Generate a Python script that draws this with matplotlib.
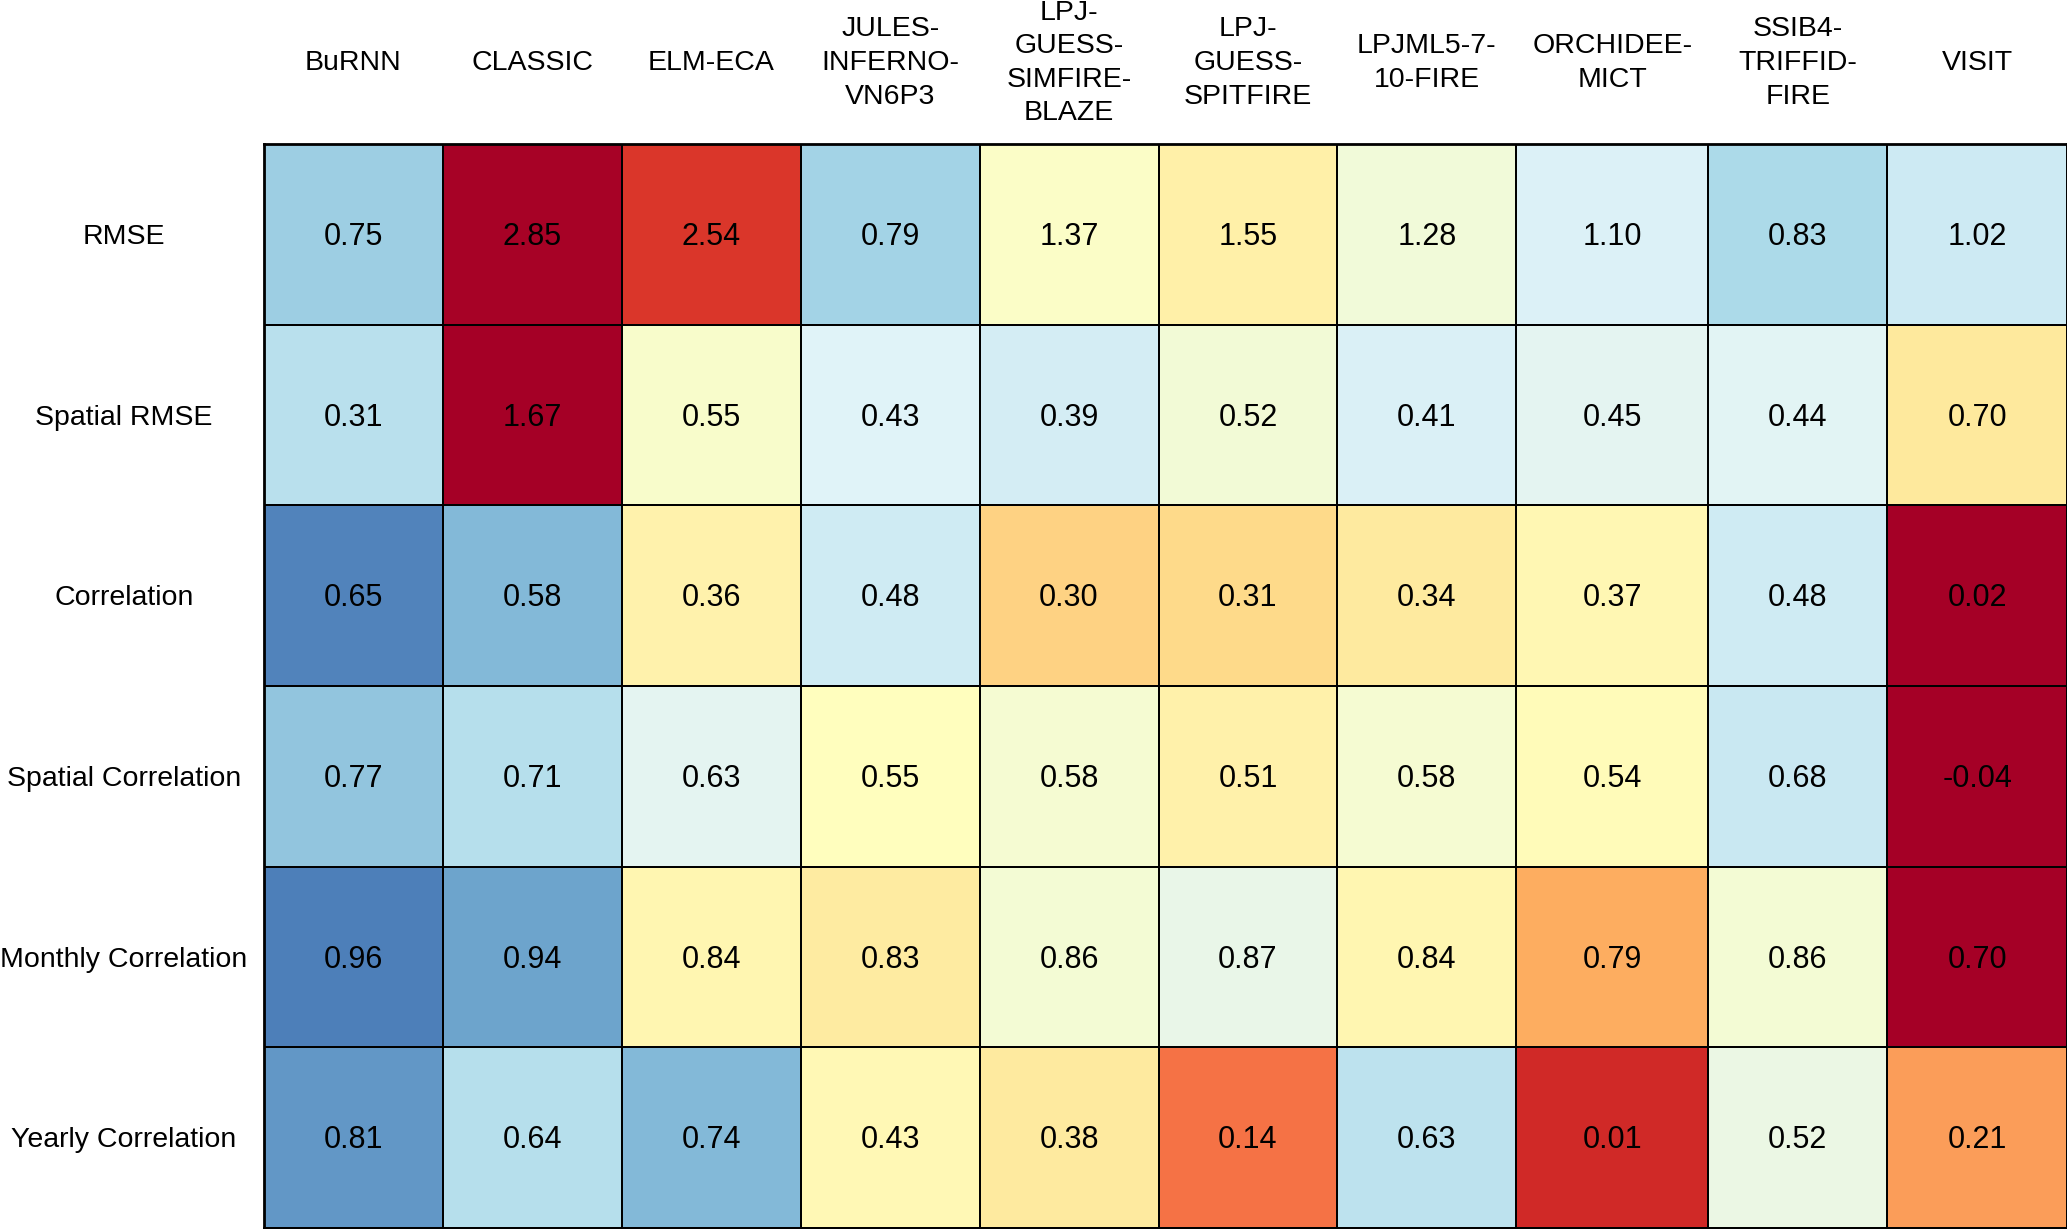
import numpy as np
import matplotlib
matplotlib.use("Agg")
import matplotlib.pyplot as plt
from matplotlib.colors import Normalize

plt.rcParams['font.family'] = ['Liberation Sans', 'DejaVu Sans']

models = ["BuRNN", "CLASSIC", "ELM-ECA", "JULES-\nINFERNO-\nVN6P3",
          "LPJ-\nGUESS-\nSIMFIRE-\nBLAZE", "LPJ-\nGUESS-\nSPITFIRE",
          "LPJML5-7-\n10-FIRE", "ORCHIDEE-\nMICT", "SSIB4-\nTRIFFID-\nFIRE", "VISIT"]
metrics = ["RMSE", "Spatial RMSE", "Correlation", "Spatial Correlation",
           "Monthly Correlation", "Yearly Correlation"]
lower_is_better = [True, True, False, False, False, False]

rmse = [0.75, 2.85, 2.54, 0.79, 1.37, 1.55, 1.28, 1.10, 0.83, 1.02]
spatial_rmse = [0.31, 1.67, 0.55, 0.43, 0.39, 0.52, 0.41, 0.45, 0.44, 0.70]
correlation = [0.65, 0.58, 0.36, 0.48, 0.30, 0.31, 0.34, 0.37, 0.48, 0.02]
spatial_corr = [0.77, 0.71, 0.63, 0.55, 0.58, 0.51, 0.58, 0.54, 0.68, -0.04]
monthly_corr = [0.96, 0.94, 0.84, 0.83, 0.86, 0.87, 0.84, 0.79, 0.86, 0.70]
yearly_corr = [0.81, 0.64, 0.74, 0.43, 0.38, 0.14, 0.63, 0.01, 0.52, 0.21]

values = np.array([rmse, spatial_rmse, correlation, spatial_corr, monthly_corr, yearly_corr])

# per-row standardised score; sign so that "better" is blue
scores = np.zeros_like(values)
for i, row in enumerate(values):
    z = (row - row.mean()) / row.std(ddof=1)
    scores[i] = z if lower_is_better[i] else -z

W, H = 2067, 1229
fig = plt.figure(figsize=(W / 100, H / 100), dpi=100)
left_px, top_px, bottom_px = 264, 144, 1228
ax = fig.add_axes([left_px / W, 1 - bottom_px / H, 1 - left_px / W, (bottom_px - top_px) / H])

nr, nc = values.shape
# column widths (layout): the ORCHIDEE-MICT column is drawn slightly wider
col_widths = np.array([178.9] * nc)
col_widths[7] = 192.0
col_widths[-1] = (W - left_px) - col_widths[:-1].sum()
x_edges = np.concatenate([[0], np.cumsum(col_widths)])
x_mid = (x_edges[:-1] + x_edges[1:]) / 2
y_edges = np.arange(nr + 1)

ax.pcolormesh(x_edges, y_edges, scores, cmap='RdYlBu_r',
              norm=Normalize(-2, 2), edgecolors='black', linewidth=1.3)
ax.set_xlim(0, W - left_px)
ax.set_ylim(nr, 0)
ax.set_xticks([])
ax.set_yticks([])
for s in ax.spines.values():
    s.set_linewidth(2.0)
    s.set_color('black')

for i in range(nr):
    for j in range(nc):
        ax.text(x_mid[j], i + 0.515, f"{values[i, j]:.2f}", ha='center', va='center',
                fontsize=22, color='black')

row_h = (bottom_px - top_px) / nr
row_label_x = 124 - left_px
for i, m in enumerate(metrics):
    ax.text(row_label_x, i + 0.515, m, ha='center', va='center', fontsize=20.5,
            color='black', clip_on=False)

col_label_y = -(top_px - 63) / row_h
for j, m in enumerate(models):
    ax.text(x_mid[j], col_label_y, m, ha='center', va='center', fontsize=20.5,
            color='black', linespacing=1.38, multialignment='center', clip_on=False)

fig.savefig("out.png", dpi=100, facecolor='white')
